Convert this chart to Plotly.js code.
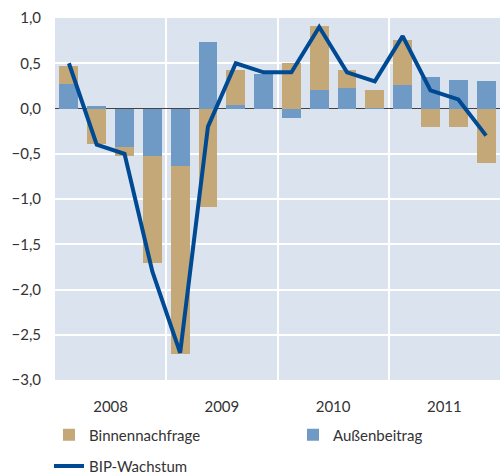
<!DOCTYPE html>
<html>
<head>
<meta charset="utf-8">
<script src="https://cdn.plot.ly/plotly-3.0.1.min.js"></script>
<style>html,body{margin:0;padding:0;background:#fff}#chart{width:500px;height:474px}</style>
</head>
<body>
<div id="chart"></div>
<script>
const quarters = ["2008 Q1","2008 Q2","2008 Q3","2008 Q4","2009 Q1","2009 Q2","2009 Q3","2009 Q4",
                  "2010 Q1","2010 Q2","2010 Q3","2010 Q4","2011 Q1","2011 Q2","2011 Q3","2011 Q4"];
const yearLabels = ["2008","2009","2010","2011"];
const binnennachfrage = [0.20,-0.39,-0.10,-1.19,-2.08,-1.09,0.39,0.00,0.50,0.70,0.20,0.20,0.50,-0.20,-0.20,-0.60];
const aussenbeitrag   = [0.27, 0.03,-0.43,-0.52,-0.63, 0.74,0.04,0.38,-0.11,0.21,0.23,0.01,0.26,0.35,0.32,0.30];
const bipWachstum     = [0.5,-0.4,-0.5,-1.8,-2.7,-0.2,0.5,0.4,0.4,0.9,0.4,0.3,0.8,0.2,0.1,-0.3];

const xIdx = quarters.map((_, i) => i);
const yearCenters = yearLabels.map((_, i) => i * 4 + 1.5);
const yearBounds = yearLabels.slice(1).map((_, i) => (i + 1) * 4 - 0.5);

const font = "Lato, 'Open Sans', sans-serif";
const traces = [
  {type:"bar", name:"Außenbeitrag", x:xIdx, y:aussenbeitrag, marker:{color:"#6f9ac6"},
   width:0.68, legendrank:2, legend:"legend", hoverinfo:"skip"},
  {type:"bar", name:"Binnennachfrage", x:xIdx, y:binnennachfrage, marker:{color:"#c4a878"},
   width:0.68, legendrank:1, legend:"legend", hoverinfo:"skip"},
  {type:"scatter", mode:"lines", name:"BIP-Wachstum", x:xIdx, y:bipWachstum,
   line:{color:"#004a93", width:4}, legend:"legend2", hoverinfo:"skip"}
];

const layout = {
  width:500, height:474,
  margin:{l:55, r:0, t:18, b:94, autoexpand:false},
  paper_bgcolor:"#ffffff", plot_bgcolor:"#dbe3ef",
  barmode:"relative", bargap:0,
  separators:",.",
  font:{family:font, size:15, color:"#333333"},
  showlegend:true,
  xaxis:{range:[-0.5,15.5], tickmode:"array", tickvals:yearCenters, ticktext:yearLabels,
         showgrid:false, zeroline:false, showline:false, ticks:"", ticklabelstandoff:16,
         minor:{tickmode:"array", tickvals:yearBounds, showgrid:true, gridcolor:"#ffffff", gridwidth:2, ticks:""},
         fixedrange:true},
  yaxis:{range:[-3,1], dtick:0.5, tick0:0, tickformat:".1f", showgrid:true, gridcolor:"#ffffff", gridwidth:2,
         zeroline:true, zerolinecolor:"#444444", zerolinewidth:1.5, ticks:"", ticklabelstandoff:13,
         showline:false, fixedrange:true},
  legend:{orientation:"h", x:-0.0135, xanchor:"left", y:-0.152, yanchor:"middle",
          entrywidth:199, entrywidthmode:"pixels", traceorder:"normal",
          font:{family:font, size:15, color:"#333333"}, bgcolor:"rgba(0,0,0,0)"},
  legend2:{orientation:"h", x:-0.0135, xanchor:"left", y:-0.238, yanchor:"middle",
          font:{family:font, size:15, color:"#333333"}, bgcolor:"rgba(0,0,0,0)"}
};
Plotly.newPlot("chart", traces, layout, {displayModeBar:false, staticPlot:true});
</script>
</body>
</html>
